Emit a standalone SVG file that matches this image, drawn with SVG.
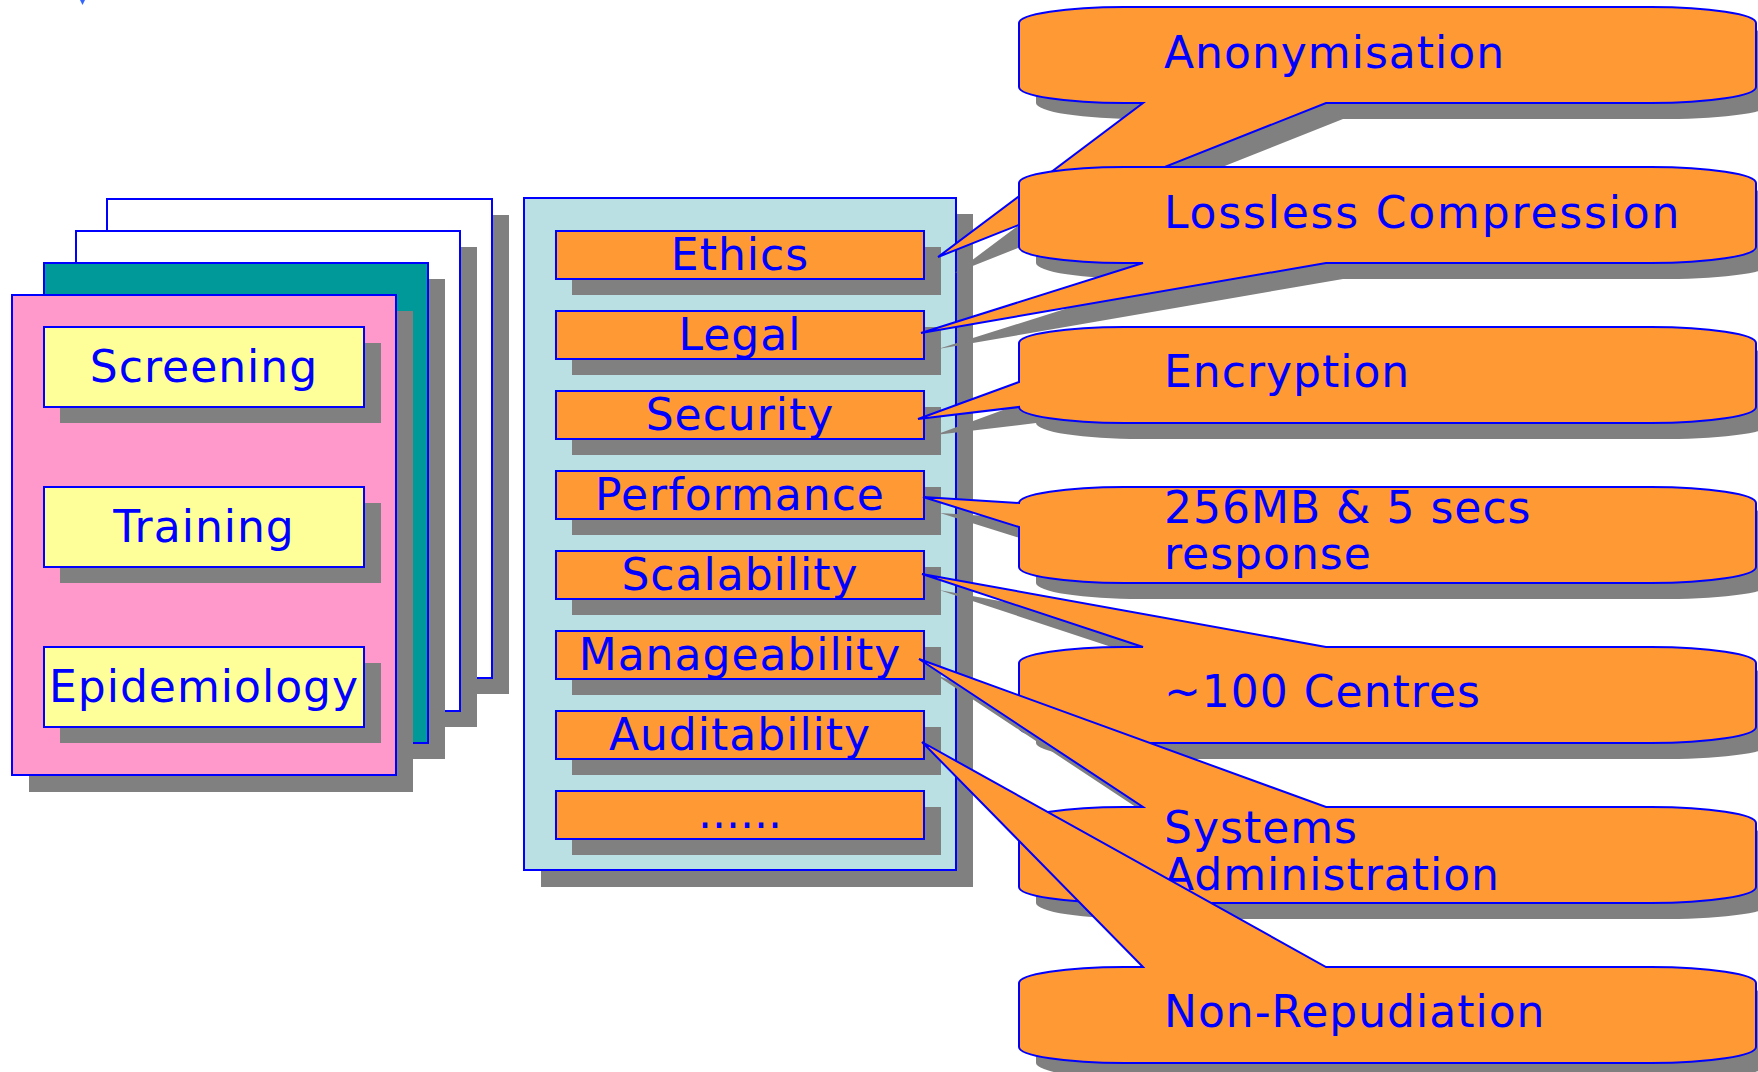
<svg xmlns="http://www.w3.org/2000/svg" xmlns:xlink="http://www.w3.org/1999/xlink" width="1758" height="1072" viewBox="0 0 1758 1072">
<style>
.sh{fill:#808080;stroke:none}
.ln{stroke:#0000FF;stroke-width:2}
.page{fill:#FFFFFF}
.teal{fill:#009999}
.pink{fill:#FF99CC}
.yel{fill:#FFFF99}
.panel{fill:#BBE0E3}
.org{fill:#FF9933}
.t{font-family:"DejaVu Sans",Verdana,sans-serif;font-size:44px;letter-spacing:1px;fill:#0000FF}
.c{text-anchor:middle}
</style>
<defs>
<path id="p-anon" d="M1019,23 A105,16 0 0 1 1124,7 H1651 A105,16 0 0 1 1756,23 V87 A105,16 0 0 1 1651,103 H1326 L938,257 L1143,103 H1124 A105,16 0 0 1 1019,87 Z"/>
<path id="p-loss" d="M1019,183 A105,16 0 0 1 1124,167 H1651 A105,16 0 0 1 1756,183 V247 A105,16 0 0 1 1651,263 H1326 L921,333 L1143,263 H1124 A105,16 0 0 1 1019,247 Z"/>
<path id="p-enc" d="M1019,343 A105,16 0 0 1 1124,327 H1651 A105,16 0 0 1 1756,343 V407 A105,16 0 0 1 1651,423 H1124 A105,16 0 0 1 1019,407 L918,419 L1019,382 Z"/>
<path id="p-perf" d="M1019,503 A105,16 0 0 1 1124,487 H1651 A105,16 0 0 1 1756,503 V567 A105,16 0 0 1 1651,583 H1124 A105,16 0 0 1 1019,567 V527 L923,497 Z"/>
<path id="p-cent" d="M1019,663 A105,16 0 0 1 1124,647 H1143 L922,574 L1326,647 H1651 A105,16 0 0 1 1756,663 V727 A105,16 0 0 1 1651,743 H1124 A105,16 0 0 1 1019,727 Z"/>
<path id="p-sys" d="M1019,823 A105,16 0 0 1 1124,807 H1143 L919,659 L1326,807 H1651 A105,16 0 0 1 1756,823 V887 A105,16 0 0 1 1651,903 H1124 A105,16 0 0 1 1019,887 Z"/>
<path id="p-non" d="M1019,983 A105,16 0 0 1 1124,967 H1143 L922,742 L1326,967 H1651 A105,16 0 0 1 1756,983 V1047 A105,16 0 0 1 1651,1063 H1124 A105,16 0 0 1 1019,1047 Z"/>
</defs>
<rect width="1758" height="1072" fill="#FFFFFF"/>
<path d="M80,0 L85,0 L82.5,5 Z" fill="#3366FF"/>

<g id="stack">
<g id="page1"><rect class="sh" x="124" y="215" width="385" height="479"/><rect class="page ln" x="107" y="199" width="385" height="479"/></g>
<g id="page2"><rect class="sh" x="93" y="247" width="384" height="480"/><rect class="page ln" x="76" y="231" width="384" height="480"/></g>
<g id="page3"><rect class="sh" x="61" y="279" width="384" height="480"/><rect class="teal ln" x="44" y="263" width="384" height="480"/></g>
<g id="page4"><rect class="sh" x="29" y="311" width="384" height="481"/><rect class="pink ln" x="12" y="295" width="384" height="480"/></g>
</g>

<g id="screening"><rect class="sh" x="60" y="343" width="321" height="80"/><rect class="yel ln" x="44" y="327" width="320" height="80"/><text class="t c" x="204" y="382">Screening</text></g>
<g id="training"><rect class="sh" x="60" y="503" width="321" height="80"/><rect class="yel ln" x="44" y="487" width="320" height="80"/><text class="t c" x="204" y="542">Training</text></g>
<g id="epidemiology"><rect class="sh" x="60" y="663" width="321" height="80"/><rect class="yel ln" x="44" y="647" width="320" height="80"/><text class="t c" x="204" y="702">Epidemiology</text></g>

<g id="panel"><rect class="sh" x="541" y="214" width="432" height="673"/><rect class="panel ln" x="524" y="198" width="432" height="672"/></g>

<g id="ethics"><rect class="sh" x="572" y="247" width="369" height="48"/><rect class="org ln" x="556" y="231" width="368" height="48"/><text class="t c" x="740" y="270">Ethics</text></g>
<g id="legal"><rect class="sh" x="572" y="327" width="369" height="48"/><rect class="org ln" x="556" y="311" width="368" height="48"/><text class="t c" x="740" y="350">Legal</text></g>
<g id="security"><rect class="sh" x="572" y="407" width="369" height="48"/><rect class="org ln" x="556" y="391" width="368" height="48"/><text class="t c" x="740" y="430">Security</text></g>
<g id="performance"><rect class="sh" x="572" y="487" width="369" height="48"/><rect class="org ln" x="556" y="471" width="368" height="48"/><text class="t c" x="740" y="510">Performance</text></g>
<g id="scalability"><rect class="sh" x="572" y="567" width="369" height="48"/><rect class="org ln" x="556" y="551" width="368" height="48"/><text class="t c" x="740" y="590">Scalability</text></g>
<g id="manageability"><rect class="sh" x="572" y="647" width="369" height="48"/><rect class="org ln" x="556" y="631" width="368" height="48"/><text class="t c" x="740" y="670">Manageability</text></g>
<g id="auditability"><rect class="sh" x="572" y="727" width="369" height="48"/><rect class="org ln" x="556" y="711" width="368" height="48"/><text class="t c" x="740" y="750">Auditability</text></g>
<g id="more"><rect class="sh" x="572" y="807" width="369" height="48"/><rect class="org ln" x="556" y="791" width="368" height="48"/><text class="t c" x="740" y="828" style="letter-spacing:0">......</text></g>

<g id="connectors">
<g id="anonymisation"><use xlink:href="#p-anon" class="sh" transform="translate(17,16)"/><use xlink:href="#p-anon" class="org ln"/><text class="t" x="1164" y="68">Anonymisation</text></g>
<g id="lossless"><use xlink:href="#p-loss" class="sh" transform="translate(17,16)"/><use xlink:href="#p-loss" class="org ln"/><text class="t" x="1164" y="228" style="letter-spacing:1.8px">Lossless Compression</text></g>
<g id="encryption"><use xlink:href="#p-enc" class="sh" transform="translate(17,16)"/><use xlink:href="#p-enc" class="org ln"/><text class="t" x="1164" y="387">Encryption</text></g>
<g id="response"><use xlink:href="#p-perf" class="sh" transform="translate(17,16)"/><use xlink:href="#p-perf" class="org ln"/><text class="t" x="1164" y="523">256MB &amp; 5 secs</text><text class="t" x="1164" y="569">response</text></g>
<g id="centres"><use xlink:href="#p-cent" class="sh" transform="translate(17,16)"/><use xlink:href="#p-cent" class="org ln"/><text class="t" x="1164" y="707">~100 Centres</text></g>
<g id="sysadmin"><use xlink:href="#p-sys" class="sh" transform="translate(17,16)"/><use xlink:href="#p-sys" class="org ln"/><text class="t" x="1164" y="843">Systems</text><text class="t" x="1164" y="890">Administration</text></g>
<g id="nonrep"><use xlink:href="#p-non" class="sh" transform="translate(17,16)"/><use xlink:href="#p-non" class="org ln"/><text class="t" x="1164" y="1027">Non-Repudiation</text></g>
</g>
</svg>
